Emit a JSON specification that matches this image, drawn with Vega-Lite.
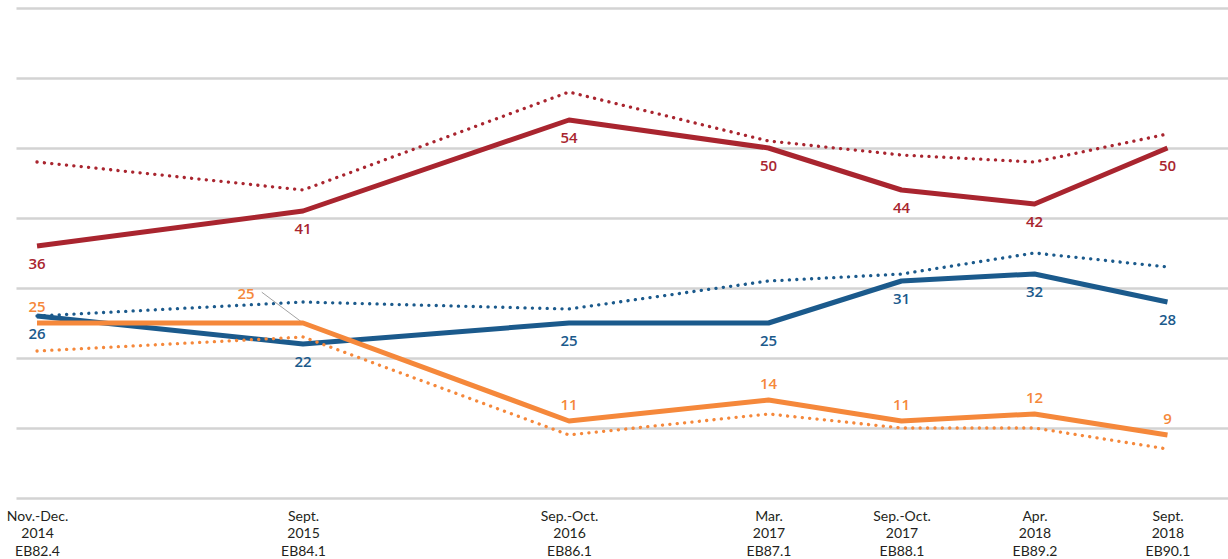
{
  "$schema": "https://vega.github.io/schema/vega-lite/v6.json",
  "width": 1212,
  "height": 490,
  "autosize": {"type": "none"},
  "padding": {"left": 16, "top": 8, "right": 0, "bottom": 61},
  "background": "white",
  "config": {"view": {"stroke": null}},
  "data": {
    "values": [
      {"step": 0, "series": "A", "kind": "solid", "value": 36},
      {"step": 2, "series": "A", "kind": "solid", "value": 41},
      {"step": 4, "series": "A", "kind": "solid", "value": 54},
      {"step": 5.5, "series": "A", "kind": "solid", "value": 50},
      {"step": 6.5, "series": "A", "kind": "solid", "value": 44},
      {"step": 7.5, "series": "A", "kind": "solid", "value": 42},
      {"step": 8.5, "series": "A", "kind": "solid", "value": 50},
      {"step": 0, "series": "A", "kind": "dotted", "value": 48},
      {"step": 2, "series": "A", "kind": "dotted", "value": 44},
      {"step": 4, "series": "A", "kind": "dotted", "value": 58},
      {"step": 5.5, "series": "A", "kind": "dotted", "value": 51},
      {"step": 6.5, "series": "A", "kind": "dotted", "value": 49},
      {"step": 7.5, "series": "A", "kind": "dotted", "value": 48},
      {"step": 8.5, "series": "A", "kind": "dotted", "value": 52},
      {"step": 0, "series": "B", "kind": "solid", "value": 26},
      {"step": 2, "series": "B", "kind": "solid", "value": 22},
      {"step": 4, "series": "B", "kind": "solid", "value": 25},
      {"step": 5.5, "series": "B", "kind": "solid", "value": 25},
      {"step": 6.5, "series": "B", "kind": "solid", "value": 31},
      {"step": 7.5, "series": "B", "kind": "solid", "value": 32},
      {"step": 8.5, "series": "B", "kind": "solid", "value": 28},
      {"step": 0, "series": "B", "kind": "dotted", "value": 26},
      {"step": 2, "series": "B", "kind": "dotted", "value": 28},
      {"step": 4, "series": "B", "kind": "dotted", "value": 27},
      {"step": 5.5, "series": "B", "kind": "dotted", "value": 31},
      {"step": 6.5, "series": "B", "kind": "dotted", "value": 32},
      {"step": 7.5, "series": "B", "kind": "dotted", "value": 35},
      {"step": 8.5, "series": "B", "kind": "dotted", "value": 33},
      {"step": 0, "series": "C", "kind": "solid", "value": 25},
      {"step": 2, "series": "C", "kind": "solid", "value": 25},
      {"step": 4, "series": "C", "kind": "solid", "value": 11},
      {"step": 5.5, "series": "C", "kind": "solid", "value": 14},
      {"step": 6.5, "series": "C", "kind": "solid", "value": 11},
      {"step": 7.5, "series": "C", "kind": "solid", "value": 12},
      {"step": 8.5, "series": "C", "kind": "solid", "value": 9},
      {"step": 0, "series": "C", "kind": "dotted", "value": 21},
      {"step": 2, "series": "C", "kind": "dotted", "value": 23},
      {"step": 4, "series": "C", "kind": "dotted", "value": 9},
      {"step": 5.5, "series": "C", "kind": "dotted", "value": 12},
      {"step": 6.5, "series": "C", "kind": "dotted", "value": 10},
      {"step": 7.5, "series": "C", "kind": "dotted", "value": 10},
      {"step": 8.5, "series": "C", "kind": "dotted", "value": 7}
    ]
  },
  "encoding": {
    "x": {
      "field": "step",
      "type": "quantitative",
      "scale": {"domain": [-0.158, 8.955], "nice": false, "zero": false},
      "axis": {
        "title": null,
        "values": [0, 2, 4, 5.5, 6.5, 7.5, 8.5],
        "labelExpr": "[['Nov.-Dec.','2014','EB82.4'],['Sept.','2015','EB84.1'],['Sep.-Oct.','2016','EB86.1'],['Mar.','2017','EB87.1'],['Sep.-Oct.','2017','EB88.1'],['Apr.','2018','EB89.2'],['Sept.','2018','EB90.1']][indexof([0,2,4,5.5,6.5,7.5,8.5], datum.value)]",
        "domain": false,
        "ticks": false,
        "grid": false,
        "labelFont": "Lato",
        "labelFontSize": 14,
        "labelColor": "#231f20",
        "labelPadding": 11,
        "labelLineHeight": 17.5,
        "labelBaseline": "top",
        "labelOverlap": false,
        "labelFlush": false,
        "labelBound": false
      }
    },
    "y": {
      "field": "value",
      "type": "quantitative",
      "scale": {"domain": [0, 70], "nice": false, "zero": true},
      "axis": {
        "title": null,
        "values": [0, 10, 20, 30, 40, 50, 60, 70],
        "labels": false,
        "ticks": false,
        "domain": false,
        "grid": true,
        "gridColor": "#d3d3d3",
        "gridWidth": 2.5
      }
    },
    "color": {
      "field": "series",
      "type": "nominal",
      "scale": {"domain": ["A", "B", "C"], "range": ["#a9252f", "#1b5a8c", "#f5883b"]},
      "legend": null
    }
  },
  "layer": [
    {
      "transform": [{"filter": "datum.series == 'B' && datum.kind == 'dotted'"}],
      "mark": {"type": "line", "strokeWidth": 3.3, "strokeDash": [0.1, 7.3], "strokeCap": "round"}
    },
    {
      "transform": [{"filter": "datum.series == 'B' && datum.kind == 'solid'"}],
      "mark": {"type": "line", "strokeWidth": 5, "strokeJoin": "round"}
    },
    {
      "transform": [{"filter": "datum.series == 'A' && datum.kind == 'dotted'"}],
      "mark": {"type": "line", "strokeWidth": 3.3, "strokeDash": [0.1, 7.3], "strokeCap": "round"}
    },
    {
      "transform": [{"filter": "datum.series == 'A' && datum.kind == 'solid'"}],
      "mark": {"type": "line", "strokeWidth": 5, "strokeJoin": "round"}
    },
    {
      "transform": [{"filter": "datum.series == 'C' && datum.kind == 'dotted'"}],
      "mark": {"type": "line", "strokeWidth": 3.3, "strokeDash": [0.1, 7.3], "strokeCap": "round"}
    },
    {
      "transform": [{"filter": "datum.series == 'C' && datum.kind == 'solid' && datum.step == 2"}],
      "mark": {"type": "rule", "color": "#8a8a8a", "strokeWidth": 0.8},
      "encoding": {
        "x2": {"datum": 1.69},
        "y2": {"datum": 29.4},
        "color": {"value": "#8a8a8a"}
      }
    },
    {
      "transform": [{"filter": "datum.series == 'C' && datum.kind == 'solid'"}],
      "mark": {"type": "line", "strokeWidth": 5, "strokeJoin": "round"}
    },
    {
      "transform": [{"filter": "datum.series != 'C' && datum.kind == 'solid'"}],
      "mark": {"type": "text", "dy": 18, "font": "Open Sans", "fontSize": 15, "fontWeight": 600, "baseline": "middle", "align": "center"},
      "encoding": {"text": {"field": "value", "type": "quantitative"}}
    },
    {
      "transform": [{"filter": "datum.series == 'C' && datum.kind == 'solid' && datum.step != 2"}],
      "mark": {"type": "text", "dy": -16, "font": "Open Sans", "fontSize": 15, "fontWeight": 600, "baseline": "middle", "align": "center"},
      "encoding": {"text": {"field": "value", "type": "quantitative"}}
    },
    {
      "transform": [{"filter": "datum.series == 'C' && datum.kind == 'solid' && datum.step == 2"}],
      "mark": {"type": "text", "dx": -57, "dy": -29, "font": "Open Sans", "fontSize": 15, "fontWeight": 600, "baseline": "middle", "align": "center"},
      "encoding": {"text": {"field": "value", "type": "quantitative"}}
    }
  ]
}
